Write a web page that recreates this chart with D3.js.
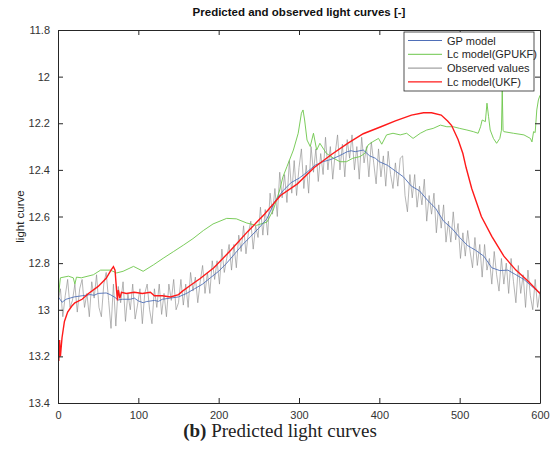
<!DOCTYPE html>
<html>
<head>
<meta charset="utf-8">
<script src="https://cdn.jsdelivr.net/npm/d3@7"></script>
<style>
  body { margin: 0; background: #fff; }
  text { font-family: "Liberation Sans", Arial, sans-serif; }
</style>
</head>
<body>
<script>
// Tick values
const xTicks = [0, 100, 200, 300, 400, 500, 600];
const yTicks = [11.8, 12, 12.2, 12.4, 12.6, 12.8, 13, 13.2, 13.4];

// GP model (blue)
const gpX = [0, 5, 10, 15, 20, 30, 40, 45, 50, 60, 65, 70, 75, 80, 90, 95, 100, 106, 110, 120, 125,
  130, 140, 150, 160, 170, 180, 190, 200, 210, 220, 230, 240, 250, 260, 270, 280, 290, 300, 310,
  315, 320, 330, 340, 350, 360, 365, 370, 380, 388, 395, 400, 410, 420, 430, 440, 450, 460, 470,
  480, 490, 500, 510, 515, 520, 530, 540, 550, 560, 570, 580, 590, 600];
const gpY = [12.943, 12.968, 12.955, 12.95, 12.945, 12.94, 12.935, 12.938, 12.93, 12.928, 12.935,
  12.945, 12.958, 12.955, 12.955, 12.95, 12.962, 12.97, 12.965, 12.96, 12.964, 12.955, 12.95,
  12.945, 12.93, 12.91, 12.89, 12.862, 12.835, 12.8, 12.76, 12.72, 12.685, 12.65, 12.61, 12.535,
  12.49, 12.455, 12.436, 12.41, 12.395, 12.38, 12.365, 12.355, 12.34, 12.322, 12.318, 12.322,
  12.315, 12.34, 12.35, 12.365, 12.38, 12.405, 12.43, 12.47, 12.49, 12.53, 12.565, 12.62, 12.65,
  12.69, 12.725, 12.735, 12.745, 12.77, 12.82, 12.832, 12.83, 12.85, 12.87, 12.9, 12.93];

// Lc model (GPUKF) (green)
const gpukfX = [0, 1, 3, 13, 19, 21, 23, 29, 44, 53, 65, 73, 81, 94, 106, 119, 131, 144, 156, 168,
  181, 193, 210, 222, 235, 247, 260, 268, 276, 280, 285, 293, 299, 303, 305, 307, 310, 314, 318,
  322, 326, 334, 343, 351, 359, 367, 376, 382, 386, 392, 399, 403, 409, 417, 426, 434, 442, 451,
  459, 467, 476, 484, 492, 500, 509, 517, 523, 526, 528, 532, 534, 536, 538, 542, 546, 550, 552,
  553, 554, 555, 567, 580, 588, 590, 592, 594, 596, 598, 600];
const gpukfY = [12.765, 12.926, 12.863, 12.856, 12.863, 12.89, 12.86, 12.863, 12.85, 12.83, 12.83,
  12.842, 12.835, 12.814, 12.835, 12.807, 12.779, 12.75, 12.723, 12.695, 12.66, 12.632, 12.608,
  12.61, 12.628, 12.638, 12.624, 12.572, 12.486, 12.43, 12.386, 12.315, 12.243, 12.157, 12.143,
  12.186, 12.272, 12.3, 12.243, 12.315, 12.286, 12.329, 12.35, 12.365, 12.365, 12.35, 12.343,
  12.329, 12.293, 12.279, 12.265, 12.29, 12.25, 12.243, 12.25, 12.243, 12.265, 12.243, 12.229,
  12.222, 12.208, 12.215, 12.215, 12.222, 12.229, 12.236, 12.243, 12.215, 12.186, 12.193, 12.114,
  12.172, 12.229, 12.265, 12.286, 12.265, 12.23, 12.06, 12.23, 12.236, 12.243, 12.25, 12.265,
  12.28, 12.236, 12.24, 12.143, 12.1, 12.08];

// Observed values (gray), x = 0, 3, 6, ... 600
const obsY = [12.97, 12.91, 13.03, 12.94, 12.87, 12.99, 12.96, 12.89, 13.01, 12.91,
  12.87, 12.99, 12.93, 13.03, 12.88, 12.95, 12.85, 12.99, 13.03, 12.89,
  12.84, 12.96, 13.08, 12.89, 13.07, 12.90, 12.97, 12.88, 13.05, 12.93,
  13.00, 12.89, 13.04, 12.98, 12.91, 13.06, 12.93, 12.89, 13.00, 13.06,
  12.91, 12.99, 12.89, 13.02, 12.93, 13.03, 12.89, 12.96, 12.87, 13.00,
  12.97, 12.87, 12.98, 12.89, 12.99, 12.84, 12.92, 12.86, 12.97, 12.88,
  12.81, 12.93, 12.84, 12.93, 12.79, 12.87, 12.79, 12.89, 12.74, 12.84,
  12.78, 12.72, 12.83, 12.72, 12.82, 12.68, 12.75, 12.64, 12.76, 12.67,
  12.62, 12.74, 12.64, 12.69, 12.56, 12.68, 12.57, 12.68, 12.50, 12.59,
  12.48, 12.60, 12.41, 12.52, 12.42, 12.54, 12.36, 12.50, 12.36, 12.51,
  12.39, 12.31, 12.48, 12.38, 12.50, 12.30, 12.41, 12.31, 12.45, 12.33,
  12.42, 12.26, 12.40, 12.30, 12.44, 12.33, 12.25, 12.40, 12.29, 12.43,
  12.27, 12.35, 12.25, 12.40, 12.30, 12.44, 12.26, 12.37, 12.30, 12.43,
  12.28, 12.37, 12.46, 12.31, 12.43, 12.34, 12.47, 12.32, 12.42, 12.48,
  12.37, 12.47, 12.35, 12.34, 12.51, 12.58, 12.42, 12.52, 12.42, 12.56,
  12.47, 12.55, 12.44, 12.62, 12.51, 12.59, 12.50, 12.67, 12.55, 12.65,
  12.55, 12.71, 12.62, 12.71, 12.58, 12.70, 12.63, 12.78, 12.67, 12.77,
  12.66, 12.75, 12.82, 12.69, 12.81, 12.72, 12.86, 12.72, 12.83, 12.78,
  12.89, 12.75, 12.85, 12.92, 12.78, 12.89, 12.80, 12.93, 12.78, 12.88,
  12.97, 12.81, 12.93, 12.85, 12.99, 12.83, 12.94, 13.00, 12.87, 12.99,
  12.92];

// Lc model (UKF) (red)
const ukfX = [0, 1, 2, 3, 5, 8, 12, 17, 21, 30, 38, 50, 60, 66, 69, 71, 73, 74, 75, 77, 79, 85, 95,
  105, 115, 120, 130, 140, 150, 155, 165, 177, 194, 215, 236, 257, 277, 298, 319, 340, 361, 380,
  402, 420, 440, 455, 465, 477, 485, 490, 498, 504, 508, 515, 527, 540, 555, 570, 586, 600];
const ukfY = [13.14, 13.22, 13.13, 13.2, 13.12, 13.05, 13.01, 12.985, 12.97, 12.955, 12.93, 12.9,
  12.865, 12.83, 12.815, 12.83, 12.92, 12.96, 12.915, 12.95, 12.925, 12.93, 12.925, 12.93, 12.925,
  12.94, 12.94, 12.945, 12.935, 12.92, 12.895, 12.866, 12.82, 12.745, 12.665, 12.59, 12.51, 12.46,
  12.39, 12.335, 12.285, 12.245, 12.215, 12.19, 12.165, 12.155, 12.155, 12.165, 12.19, 12.21,
  12.27, 12.33, 12.39, 12.48, 12.6, 12.685, 12.77, 12.83, 12.88, 12.93];

const legendNames = ["GP model", "Lc model(GPUKF)", "Observed values", "Lc model(UKF)"];
const colors = ["#4f6fb8", "#6cc64a", "#8c8c8c", "#ff1a1a"];

const width = 556, height = 464;
const margin = {left: 58, right: 16, top: 30, bottom: 61};
const plotW = width - margin.left - margin.right;
const plotH = height - margin.top - margin.bottom;

const svg = d3.select("body").append("svg")
    .attr("width", width)
    .attr("height", height);

const x = d3.scaleLinear().domain([0, 600]).range([margin.left, margin.left + plotW]);
const y = d3.scaleLinear().domain([11.8, 13.4]).range([margin.top, margin.top + plotH]);

svg.append("clipPath").attr("id", "clip")
    .append("rect")
    .attr("x", margin.left).attr("y", margin.top)
    .attr("width", plotW).attr("height", plotH);

const plot = svg.append("g").attr("clip-path", "url(#clip)");
const line = d3.line().x(d => x(d[0])).y(d => y(d[1]));

const obsData = obsY.map((v, i) => [i * 3, v]);
const gpData = gpX.map((v, i) => [v, gpY[i]]);
const gpukfData = gpukfX.map((v, i) => [v, gpukfY[i]]);
const ukfData = ukfX.map((v, i) => [v, ukfY[i]]);

// Draw order: observed, GPUKF, GP, UKF
plot.append("path").datum(obsData).attr("d", line)
    .attr("fill", "none").attr("stroke", colors[2]).attr("stroke-width", 0.8).attr("stroke-opacity", 0.8);
plot.append("path").datum(gpukfData).attr("d", line)
    .attr("fill", "none").attr("stroke", colors[1]).attr("stroke-width", 0.9);
plot.append("path").datum(gpData).attr("d", line)
    .attr("fill", "none").attr("stroke", colors[0]).attr("stroke-width", 0.9);
plot.append("path").datum(ukfData).attr("d", line)
    .attr("fill", "none").attr("stroke", colors[3]).attr("stroke-width", 1.4);

// Axes, MATLAB style (ticks inside, box on)
const axisColor = "#262626";
const fmt = d => String(+d.toFixed(1));

const gx = svg.append("g").attr("transform", `translate(0,${margin.top + plotH})`)
    .call(d3.axisBottom(x).tickValues(xTicks).tickSize(-5).tickPadding(8).tickSizeOuter(0));
const gxTop = svg.append("g").attr("transform", `translate(0,${margin.top})`)
    .call(d3.axisTop(x).tickValues(xTicks).tickSize(-5).tickFormat("").tickSizeOuter(0));
const gy = svg.append("g").attr("transform", `translate(${margin.left},0)`)
    .call(d3.axisLeft(y).tickValues(yTicks).tickSize(-5).tickPadding(8).tickFormat(fmt).tickSizeOuter(0));
const gyRight = svg.append("g").attr("transform", `translate(${margin.left + plotW},0)`)
    .call(d3.axisRight(y).tickValues(yTicks).tickSize(-5).tickFormat("").tickSizeOuter(0));

[gx, gxTop, gy, gyRight].forEach(g => {
  g.selectAll("path").attr("stroke", axisColor);
  g.selectAll("line").attr("stroke", axisColor);
  g.selectAll("text").attr("fill", "#333").attr("font-size", 11)
    .attr("font-family", "Liberation Sans, Arial, sans-serif");
});

// Title and labels
svg.append("text")
    .attr("x", margin.left + plotW / 2).attr("y", 16)
    .attr("text-anchor", "middle").attr("font-weight", "bold").attr("font-size", 11.5)
    .attr("fill", "#111")
    .text("Predicted and observed light curves [-]");

svg.append("text")
    .attr("transform", `translate(24,${margin.top + plotH / 2}) rotate(-90)`)
    .attr("text-anchor", "middle").attr("font-size", 11.5).attr("fill", "#262626")
    .text("light curve");

const cap = svg.append("text")
    .attr("x", 280).attr("y", 437)
    .attr("text-anchor", "middle")
    .attr("font-size", 19).attr("fill", "#222")
    .style("font-family", "Liberation Serif, Times New Roman, serif");
cap.append("tspan").attr("font-weight", "bold").text("(b)");
cap.append("tspan").text(" Predicted light curves");

// Legend
const lg = svg.append("g").attr("transform", "translate(404,32)");
lg.append("rect").attr("width", 130).attr("height", 59)
    .attr("fill", "#fff").attr("stroke", axisColor).attr("stroke-width", 0.8);
legendNames.forEach((name, i) => {
  const yy = 8.5 + i * 13.8;
  lg.append("line").attr("x1", 4).attr("x2", 38).attr("y1", yy).attr("y2", yy)
      .attr("stroke", colors[i]).attr("stroke-width", i === 3 ? 1.4 : 1);
  lg.append("text").attr("x", 43).attr("y", yy + 4)
      .attr("font-size", 11).attr("fill", "#262626").text(name);
});
</script>
</body>
</html>
